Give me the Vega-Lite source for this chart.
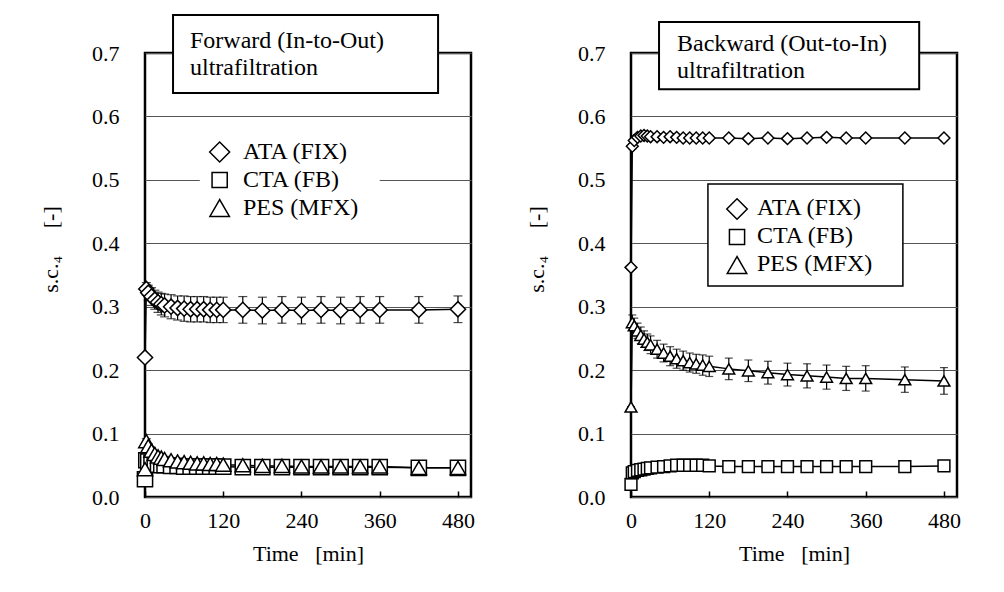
{
  "$schema": "https://vega.github.io/schema/vega-lite/v6.json",
  "background": "white",
  "padding": {"left": 37, "top": 12, "right": 5, "bottom": 5},
  "spacing": 47,
  "datasets": {
    "d": [
      {"p":"F","s":"ATA (FIX)","t":0,"v":0.220,"e":0},
      {"p":"F","s":"ATA (FIX)","t":2,"v":0.328,"e":0.010},
      {"p":"F","s":"ATA (FIX)","t":5,"v":0.322,"e":0.012},
      {"p":"F","s":"ATA (FIX)","t":10,"v":0.316,"e":0.014},
      {"p":"F","s":"ATA (FIX)","t":15,"v":0.311,"e":0.015},
      {"p":"F","s":"ATA (FIX)","t":20,"v":0.307,"e":0.016},
      {"p":"F","s":"ATA (FIX)","t":25,"v":0.304,"e":0.017},
      {"p":"F","s":"ATA (FIX)","t":30,"v":0.302,"e":0.018},
      {"p":"F","s":"ATA (FIX)","t":40,"v":0.300,"e":0.019},
      {"p":"F","s":"ATA (FIX)","t":50,"v":0.298,"e":0.019},
      {"p":"F","s":"ATA (FIX)","t":60,"v":0.297,"e":0.020},
      {"p":"F","s":"ATA (FIX)","t":70,"v":0.296,"e":0.020},
      {"p":"F","s":"ATA (FIX)","t":80,"v":0.296,"e":0.020},
      {"p":"F","s":"ATA (FIX)","t":90,"v":0.296,"e":0.020},
      {"p":"F","s":"ATA (FIX)","t":100,"v":0.295,"e":0.020},
      {"p":"F","s":"ATA (FIX)","t":110,"v":0.295,"e":0.020},
      {"p":"F","s":"ATA (FIX)","t":120,"v":0.295,"e":0.020},
      {"p":"F","s":"ATA (FIX)","t":150,"v":0.295,"e":0.021},
      {"p":"F","s":"ATA (FIX)","t":180,"v":0.294,"e":0.021},
      {"p":"F","s":"ATA (FIX)","t":210,"v":0.295,"e":0.021},
      {"p":"F","s":"ATA (FIX)","t":240,"v":0.294,"e":0.021},
      {"p":"F","s":"ATA (FIX)","t":270,"v":0.295,"e":0.021},
      {"p":"F","s":"ATA (FIX)","t":300,"v":0.294,"e":0.021},
      {"p":"F","s":"ATA (FIX)","t":330,"v":0.295,"e":0.021},
      {"p":"F","s":"ATA (FIX)","t":360,"v":0.295,"e":0.021},
      {"p":"F","s":"ATA (FIX)","t":420,"v":0.295,"e":0.021},
      {"p":"F","s":"ATA (FIX)","t":480,"v":0.296,"e":0.021},
      {"p":"F","s":"CTA (FB)","t":0,"v":0.028,"e":0},
      {"p":"F","s":"CTA (FB)","t":2,"v":0.058,"e":0.003},
      {"p":"F","s":"CTA (FB)","t":5,"v":0.056,"e":0.003},
      {"p":"F","s":"CTA (FB)","t":10,"v":0.054,"e":0.003},
      {"p":"F","s":"CTA (FB)","t":15,"v":0.052,"e":0.003},
      {"p":"F","s":"CTA (FB)","t":20,"v":0.051,"e":0.003},
      {"p":"F","s":"CTA (FB)","t":25,"v":0.050,"e":0.003},
      {"p":"F","s":"CTA (FB)","t":30,"v":0.050,"e":0.003},
      {"p":"F","s":"CTA (FB)","t":40,"v":0.049,"e":0.003},
      {"p":"F","s":"CTA (FB)","t":50,"v":0.049,"e":0.003},
      {"p":"F","s":"CTA (FB)","t":60,"v":0.048,"e":0.003},
      {"p":"F","s":"CTA (FB)","t":70,"v":0.048,"e":0.003},
      {"p":"F","s":"CTA (FB)","t":80,"v":0.048,"e":0.003},
      {"p":"F","s":"CTA (FB)","t":90,"v":0.048,"e":0.003},
      {"p":"F","s":"CTA (FB)","t":100,"v":0.048,"e":0.003},
      {"p":"F","s":"CTA (FB)","t":110,"v":0.048,"e":0.003},
      {"p":"F","s":"CTA (FB)","t":120,"v":0.048,"e":0.003},
      {"p":"F","s":"CTA (FB)","t":150,"v":0.047,"e":0.003},
      {"p":"F","s":"CTA (FB)","t":180,"v":0.047,"e":0.003},
      {"p":"F","s":"CTA (FB)","t":210,"v":0.047,"e":0.003},
      {"p":"F","s":"CTA (FB)","t":240,"v":0.047,"e":0.003},
      {"p":"F","s":"CTA (FB)","t":270,"v":0.047,"e":0.003},
      {"p":"F","s":"CTA (FB)","t":300,"v":0.047,"e":0.003},
      {"p":"F","s":"CTA (FB)","t":330,"v":0.047,"e":0.003},
      {"p":"F","s":"CTA (FB)","t":360,"v":0.047,"e":0.003},
      {"p":"F","s":"CTA (FB)","t":420,"v":0.046,"e":0.003},
      {"p":"F","s":"CTA (FB)","t":480,"v":0.046,"e":0.003},
      {"p":"F","s":"PES (MFX)","t":0,"v":0.044,"e":0},
      {"p":"F","s":"PES (MFX)","t":2,"v":0.088,"e":0.004},
      {"p":"F","s":"PES (MFX)","t":5,"v":0.080,"e":0.004},
      {"p":"F","s":"PES (MFX)","t":10,"v":0.073,"e":0.004},
      {"p":"F","s":"PES (MFX)","t":15,"v":0.068,"e":0.004},
      {"p":"F","s":"PES (MFX)","t":20,"v":0.064,"e":0.004},
      {"p":"F","s":"PES (MFX)","t":25,"v":0.062,"e":0.004},
      {"p":"F","s":"PES (MFX)","t":30,"v":0.060,"e":0.004},
      {"p":"F","s":"PES (MFX)","t":40,"v":0.058,"e":0.004},
      {"p":"F","s":"PES (MFX)","t":50,"v":0.056,"e":0.004},
      {"p":"F","s":"PES (MFX)","t":60,"v":0.055,"e":0.004},
      {"p":"F","s":"PES (MFX)","t":70,"v":0.054,"e":0.004},
      {"p":"F","s":"PES (MFX)","t":80,"v":0.053,"e":0.004},
      {"p":"F","s":"PES (MFX)","t":90,"v":0.053,"e":0.004},
      {"p":"F","s":"PES (MFX)","t":100,"v":0.052,"e":0.004},
      {"p":"F","s":"PES (MFX)","t":110,"v":0.052,"e":0.004},
      {"p":"F","s":"PES (MFX)","t":120,"v":0.051,"e":0.004},
      {"p":"F","s":"PES (MFX)","t":150,"v":0.050,"e":0.004},
      {"p":"F","s":"PES (MFX)","t":180,"v":0.049,"e":0.004},
      {"p":"F","s":"PES (MFX)","t":210,"v":0.049,"e":0.004},
      {"p":"F","s":"PES (MFX)","t":240,"v":0.048,"e":0.004},
      {"p":"F","s":"PES (MFX)","t":270,"v":0.048,"e":0.004},
      {"p":"F","s":"PES (MFX)","t":300,"v":0.048,"e":0.004},
      {"p":"F","s":"PES (MFX)","t":330,"v":0.048,"e":0.004},
      {"p":"F","s":"PES (MFX)","t":360,"v":0.048,"e":0.004},
      {"p":"F","s":"PES (MFX)","t":420,"v":0.046,"e":0.004},
      {"p":"F","s":"PES (MFX)","t":480,"v":0.046,"e":0.004},
      {"p":"B","s":"ATA (FIX)","t":0,"v":0.362,"e":0},
      {"p":"B","s":"ATA (FIX)","t":2,"v":0.553,"e":0.004},
      {"p":"B","s":"ATA (FIX)","t":5,"v":0.562,"e":0.004},
      {"p":"B","s":"ATA (FIX)","t":10,"v":0.567,"e":0.004},
      {"p":"B","s":"ATA (FIX)","t":15,"v":0.569,"e":0.004},
      {"p":"B","s":"ATA (FIX)","t":20,"v":0.570,"e":0.004},
      {"p":"B","s":"ATA (FIX)","t":25,"v":0.569,"e":0.004},
      {"p":"B","s":"ATA (FIX)","t":30,"v":0.568,"e":0.004},
      {"p":"B","s":"ATA (FIX)","t":40,"v":0.568,"e":0.004},
      {"p":"B","s":"ATA (FIX)","t":50,"v":0.567,"e":0.004},
      {"p":"B","s":"ATA (FIX)","t":60,"v":0.568,"e":0.004},
      {"p":"B","s":"ATA (FIX)","t":70,"v":0.567,"e":0.004},
      {"p":"B","s":"ATA (FIX)","t":80,"v":0.566,"e":0.004},
      {"p":"B","s":"ATA (FIX)","t":90,"v":0.566,"e":0.004},
      {"p":"B","s":"ATA (FIX)","t":100,"v":0.566,"e":0.004},
      {"p":"B","s":"ATA (FIX)","t":110,"v":0.566,"e":0.004},
      {"p":"B","s":"ATA (FIX)","t":120,"v":0.566,"e":0.004},
      {"p":"B","s":"ATA (FIX)","t":150,"v":0.566,"e":0.004},
      {"p":"B","s":"ATA (FIX)","t":180,"v":0.565,"e":0.004},
      {"p":"B","s":"ATA (FIX)","t":210,"v":0.566,"e":0.004},
      {"p":"B","s":"ATA (FIX)","t":240,"v":0.565,"e":0.004},
      {"p":"B","s":"ATA (FIX)","t":270,"v":0.566,"e":0.004},
      {"p":"B","s":"ATA (FIX)","t":300,"v":0.567,"e":0.004},
      {"p":"B","s":"ATA (FIX)","t":330,"v":0.566,"e":0.004},
      {"p":"B","s":"ATA (FIX)","t":360,"v":0.566,"e":0.004},
      {"p":"B","s":"ATA (FIX)","t":420,"v":0.566,"e":0.004},
      {"p":"B","s":"ATA (FIX)","t":480,"v":0.566,"e":0.004},
      {"p":"B","s":"CTA (FB)","t":0,"v":0.020,"e":0},
      {"p":"B","s":"CTA (FB)","t":2,"v":0.038,"e":0.002},
      {"p":"B","s":"CTA (FB)","t":5,"v":0.040,"e":0.002},
      {"p":"B","s":"CTA (FB)","t":10,"v":0.042,"e":0.002},
      {"p":"B","s":"CTA (FB)","t":15,"v":0.043,"e":0.002},
      {"p":"B","s":"CTA (FB)","t":20,"v":0.044,"e":0.002},
      {"p":"B","s":"CTA (FB)","t":25,"v":0.045,"e":0.002},
      {"p":"B","s":"CTA (FB)","t":30,"v":0.046,"e":0.002},
      {"p":"B","s":"CTA (FB)","t":40,"v":0.047,"e":0.002},
      {"p":"B","s":"CTA (FB)","t":50,"v":0.048,"e":0.002},
      {"p":"B","s":"CTA (FB)","t":60,"v":0.049,"e":0.002},
      {"p":"B","s":"CTA (FB)","t":70,"v":0.050,"e":0.002},
      {"p":"B","s":"CTA (FB)","t":80,"v":0.050,"e":0.002},
      {"p":"B","s":"CTA (FB)","t":90,"v":0.050,"e":0.002},
      {"p":"B","s":"CTA (FB)","t":100,"v":0.050,"e":0.002},
      {"p":"B","s":"CTA (FB)","t":110,"v":0.050,"e":0.002},
      {"p":"B","s":"CTA (FB)","t":120,"v":0.049,"e":0.002},
      {"p":"B","s":"CTA (FB)","t":150,"v":0.048,"e":0.002},
      {"p":"B","s":"CTA (FB)","t":180,"v":0.048,"e":0.002},
      {"p":"B","s":"CTA (FB)","t":210,"v":0.048,"e":0.002},
      {"p":"B","s":"CTA (FB)","t":240,"v":0.048,"e":0.002},
      {"p":"B","s":"CTA (FB)","t":270,"v":0.048,"e":0.002},
      {"p":"B","s":"CTA (FB)","t":300,"v":0.048,"e":0.002},
      {"p":"B","s":"CTA (FB)","t":330,"v":0.048,"e":0.002},
      {"p":"B","s":"CTA (FB)","t":360,"v":0.048,"e":0.002},
      {"p":"B","s":"CTA (FB)","t":420,"v":0.048,"e":0.002},
      {"p":"B","s":"CTA (FB)","t":480,"v":0.049,"e":0.002},
      {"p":"B","s":"PES (MFX)","t":0,"v":0.142,"e":0},
      {"p":"B","s":"PES (MFX)","t":2,"v":0.275,"e":0.012},
      {"p":"B","s":"PES (MFX)","t":5,"v":0.270,"e":0.012},
      {"p":"B","s":"PES (MFX)","t":10,"v":0.262,"e":0.012},
      {"p":"B","s":"PES (MFX)","t":15,"v":0.255,"e":0.013},
      {"p":"B","s":"PES (MFX)","t":20,"v":0.249,"e":0.013},
      {"p":"B","s":"PES (MFX)","t":25,"v":0.244,"e":0.013},
      {"p":"B","s":"PES (MFX)","t":30,"v":0.240,"e":0.014},
      {"p":"B","s":"PES (MFX)","t":40,"v":0.233,"e":0.014},
      {"p":"B","s":"PES (MFX)","t":50,"v":0.227,"e":0.014},
      {"p":"B","s":"PES (MFX)","t":60,"v":0.222,"e":0.015},
      {"p":"B","s":"PES (MFX)","t":70,"v":0.218,"e":0.015},
      {"p":"B","s":"PES (MFX)","t":80,"v":0.215,"e":0.015},
      {"p":"B","s":"PES (MFX)","t":90,"v":0.212,"e":0.015},
      {"p":"B","s":"PES (MFX)","t":100,"v":0.210,"e":0.015},
      {"p":"B","s":"PES (MFX)","t":110,"v":0.208,"e":0.016},
      {"p":"B","s":"PES (MFX)","t":120,"v":0.206,"e":0.016},
      {"p":"B","s":"PES (MFX)","t":150,"v":0.202,"e":0.017},
      {"p":"B","s":"PES (MFX)","t":180,"v":0.199,"e":0.017},
      {"p":"B","s":"PES (MFX)","t":210,"v":0.196,"e":0.018},
      {"p":"B","s":"PES (MFX)","t":240,"v":0.193,"e":0.018},
      {"p":"B","s":"PES (MFX)","t":270,"v":0.191,"e":0.019},
      {"p":"B","s":"PES (MFX)","t":300,"v":0.189,"e":0.019},
      {"p":"B","s":"PES (MFX)","t":330,"v":0.187,"e":0.019},
      {"p":"B","s":"PES (MFX)","t":360,"v":0.187,"e":0.020},
      {"p":"B","s":"PES (MFX)","t":420,"v":0.185,"e":0.020},
      {"p":"B","s":"PES (MFX)","t":480,"v":0.183,"e":0.021}
    ]
  },
  "config": {
    "font": "Liberation Serif",
    "view": {"stroke": "black", "strokeWidth": 2.5},
    "axis": {
      "labelFont": "Liberation Serif", "labelFontSize": 22, "labelColor": "black",
      "titleFont": "Liberation Serif", "titleFontSize": 22, "titleFontWeight": "normal", "titleColor": "black",
      "domain": false
    },
    "axisY": {
      "grid": true, "gridColor": "#555555", "gridWidth": 1.2, "ticks": false,
      "labelPadding": 26, "minExtent": 50, "maxExtent": 50, "titlePadding": 33
    },
    "axisX": {
      "grid": false, "ticks": true, "tickSize": -6, "tickColor": "black", "tickWidth": 1.5,
      "labelPadding": 19, "titlePadding": 12, "labelFlush": false
    },
    "legend": {
      "labelFont": "Liberation Serif", "labelFontSize": 24, "labelColor": "black",
      "symbolSize": 300, "rowPadding": 4, "labelOffset": 14, "symbolOpacity": 0
    }
  },
  "resolve": {"scale": {"shape": "independent"}, "legend": {"shape": "independent"}},
  "hconcat": [
    {
      "width": 326, "height": 444,
      "data": {"name": "d"},
      "transform": [{"filter": "datum.p === 'F'"}],
      "layer": [
        {
          "data": {"values": [{}]},
          "mark": {"type": "rect", "fill": "white", "strokeWidth": 0},
          "encoding": {
            "x": {"datum": 84, "type": "quantitative"}, "x2": {"datum": 360},
            "y": {"datum": 0.566, "type": "quantitative"}, "y2": {"datum": 0.434}
          }
        },
        {
          "mark": {"type": "errorbar", "ticks": {"size": 9, "color": "black", "thickness": 1.2}, "rule": {"color": "black", "strokeWidth": 1.2}, "color": "black"},
          "encoding": {
            "x": {"field": "t", "type": "quantitative", "title": "Time\u00a0\u00a0\u00a0[min]"},
            "y": {"field": "v", "type": "quantitative", "title": "s.c.\u2084\u00a0\u00a0\u00a0\u00a0\u00a0[-]"},
            "yError": {"field": "e"}
          }
        },
        {
          "mark": {"type": "line", "color": "black", "strokeWidth": 1.5},
          "encoding": {
            "x": {"field": "t", "type": "quantitative", "title": "Time\u00a0\u00a0\u00a0[min]"},
            "y": {"field": "v", "type": "quantitative", "title": "s.c.\u2084\u00a0\u00a0\u00a0\u00a0\u00a0[-]"},
            "detail": {"field": "s"}
          }
        },
        {
          "mark": {"type": "point", "filled": true, "fill": "white", "stroke": "black", "strokeWidth": 1.5, "opacity": 1, "size": 230},
          "encoding": {
            "x": {"field": "t", "type": "quantitative", "title": "Time\u00a0\u00a0\u00a0[min]", "scale": {"domain": [0, 500], "nice": false},
                  "axis": {"values": [0, 120, 240, 360, 480]}},
            "y": {"field": "v", "type": "quantitative", "title": "s.c.\u2084\u00a0\u00a0\u00a0\u00a0\u00a0[-]", "scale": {"domain": [0, 0.7], "nice": false},
                  "axis": {"values": [0, 0.1, 0.2, 0.3, 0.4, 0.5, 0.6, 0.7], "format": ".1f", "titleY": 196}},
            "shape": {"field": "s", "type": "nominal",
                      "scale": {"domain": ["ATA (FIX)", "CTA (FB)", "PES (MFX)"], "range": ["diamond", "square", "triangle-up"]},
                      "legend": {"title": null, "orient": "none", "legendX": 52, "legendY": 79, "padding": 8, "symbolOpacity": 0}}
          }
        },
        {
          "data": {"values": [{}]},
          "mark": {"type": "point", "shape": "diamond", "size": 400, "filled": true, "fill": "white", "stroke": "black", "strokeWidth": 1.5, "opacity": 1},
          "encoding": {"x": {"datum": 114.5, "type": "quantitative"}, "y": {"datum": 0.5439, "type": "quantitative"}}
        },
        {
          "data": {"values": [{}]},
          "mark": {"type": "point", "shape": "square", "size": 230, "filled": true, "fill": "white", "stroke": "black", "strokeWidth": 1.5, "opacity": 1},
          "encoding": {"x": {"datum": 114.5, "type": "quantitative"}, "y": {"datum": 0.4998, "type": "quantitative"}}
        },
        {
          "data": {"values": [{}]},
          "mark": {"type": "point", "shape": "triangle-up", "size": 380, "filled": true, "fill": "white", "stroke": "black", "strokeWidth": 1.5, "opacity": 1},
          "encoding": {"x": {"datum": 114.5, "type": "quantitative"}, "y": {"datum": 0.4556, "type": "quantitative"}}
        },
        {
          "data": {"values": [{}]},
          "mark": {"type": "rect", "fill": "white", "stroke": "black", "strokeWidth": 2},
          "encoding": {
            "x": {"datum": 43, "type": "quantitative"}, "x2": {"datum": 449.5},
            "y": {"datum": 0.76, "type": "quantitative"}, "y2": {"datum": 0.637}
          }
        },
        {
          "data": {"values": [{}]},
          "mark": {"type": "text", "text": ["Forward (In-to-Out)", "ultrafiltration"], "align": "left", "baseline": "alphabetic", "font": "Liberation Serif", "fontSize": 24, "lineHeight": 27, "color": "black"},
          "encoding": {
            "x": {"datum": 69, "type": "quantitative"},
            "y": {"datum": 0.708, "type": "quantitative"}
          }
        }
      ]
    },
    {
      "width": 326, "height": 444,
      "data": {"name": "d"},
      "transform": [{"filter": "datum.p === 'B'"}],
      "layer": [
        {
          "data": {"values": [{}]},
          "mark": {"type": "rect", "fill": "white", "stroke": "black", "strokeWidth": 1.5},
          "encoding": {
            "x": {"datum": 118, "type": "quantitative"}, "x2": {"datum": 417},
            "y": {"datum": 0.4935, "type": "quantitative"}, "y2": {"datum": 0.3327}
          }
        },
        {
          "mark": {"type": "errorbar", "ticks": {"size": 8, "color": "black", "thickness": 1.2}, "rule": {"color": "black", "strokeWidth": 1.2}, "color": "black"},
          "encoding": {
            "x": {"field": "t", "type": "quantitative", "title": "Time\u00a0\u00a0\u00a0[min]"},
            "y": {"field": "v", "type": "quantitative", "title": "s.c.\u2084\u00a0\u00a0\u00a0\u00a0\u00a0[-]"},
            "yError": {"field": "e"}
          }
        },
        {
          "mark": {"type": "line", "color": "black", "strokeWidth": 1.5},
          "encoding": {
            "x": {"field": "t", "type": "quantitative", "title": "Time\u00a0\u00a0\u00a0[min]"},
            "y": {"field": "v", "type": "quantitative", "title": "s.c.\u2084\u00a0\u00a0\u00a0\u00a0\u00a0[-]"},
            "detail": {"field": "s"}
          }
        },
        {
          "mark": {"type": "point", "filled": true, "fill": "white", "stroke": "black", "strokeWidth": 1.5, "opacity": 1, "size": 140},
          "encoding": {
            "x": {"field": "t", "type": "quantitative", "title": "Time\u00a0\u00a0\u00a0[min]", "scale": {"domain": [0, 500], "nice": false},
                  "axis": {"values": [0, 120, 240, 360, 480]}},
            "y": {"field": "v", "type": "quantitative", "title": "s.c.\u2084\u00a0\u00a0\u00a0\u00a0\u00a0[-]", "scale": {"domain": [0, 0.7], "nice": false},
                  "axis": {"values": [0, 0.1, 0.2, 0.3, 0.4, 0.5, 0.6, 0.7], "format": ".1f", "titleY": 196}},
            "shape": {"field": "s", "type": "nominal",
                      "scale": {"domain": ["ATA (FIX)", "CTA (FB)", "PES (MFX)"], "range": ["diamond", "square", "triangle-up"]},
                      "legend": {"title": null, "orient": "none", "legendX": 77, "legendY": 132, "padding": 11, "symbolOpacity": 0}}
          }
        },
        {
          "data": {"values": [{}]},
          "mark": {"type": "point", "shape": "diamond", "size": 420, "filled": true, "fill": "white", "stroke": "black", "strokeWidth": 1.5, "opacity": 1},
          "encoding": {"x": {"datum": 162.6, "type": "quantitative"}, "y": {"datum": 0.4541, "type": "quantitative"}}
        },
        {
          "data": {"values": [{}]},
          "mark": {"type": "point", "shape": "square", "size": 230, "filled": true, "fill": "white", "stroke": "black", "strokeWidth": 1.5, "opacity": 1},
          "encoding": {"x": {"datum": 162.6, "type": "quantitative"}, "y": {"datum": 0.4099, "type": "quantitative"}}
        },
        {
          "data": {"values": [{}]},
          "mark": {"type": "point", "shape": "triangle-up", "size": 380, "filled": true, "fill": "white", "stroke": "black", "strokeWidth": 1.5, "opacity": 1},
          "encoding": {"x": {"datum": 162.6, "type": "quantitative"}, "y": {"datum": 0.3658, "type": "quantitative"}}
        },
        {
          "data": {"values": [{}]},
          "mark": {"type": "rect", "fill": "white", "stroke": "black", "strokeWidth": 2},
          "encoding": {
            "x": {"datum": 43, "type": "quantitative"}, "x2": {"datum": 442},
            "y": {"datum": 0.749, "type": "quantitative"}, "y2": {"datum": 0.643}
          }
        },
        {
          "data": {"values": [{}]},
          "mark": {"type": "text", "text": ["Backward (Out-to-In)", "ultrafiltration"], "align": "left", "baseline": "alphabetic", "font": "Liberation Serif", "fontSize": 24, "lineHeight": 27, "color": "black"},
          "encoding": {
            "x": {"datum": 70.5, "type": "quantitative"},
            "y": {"datum": 0.703, "type": "quantitative"}
          }
        }
      ]
    }
  ]
}
